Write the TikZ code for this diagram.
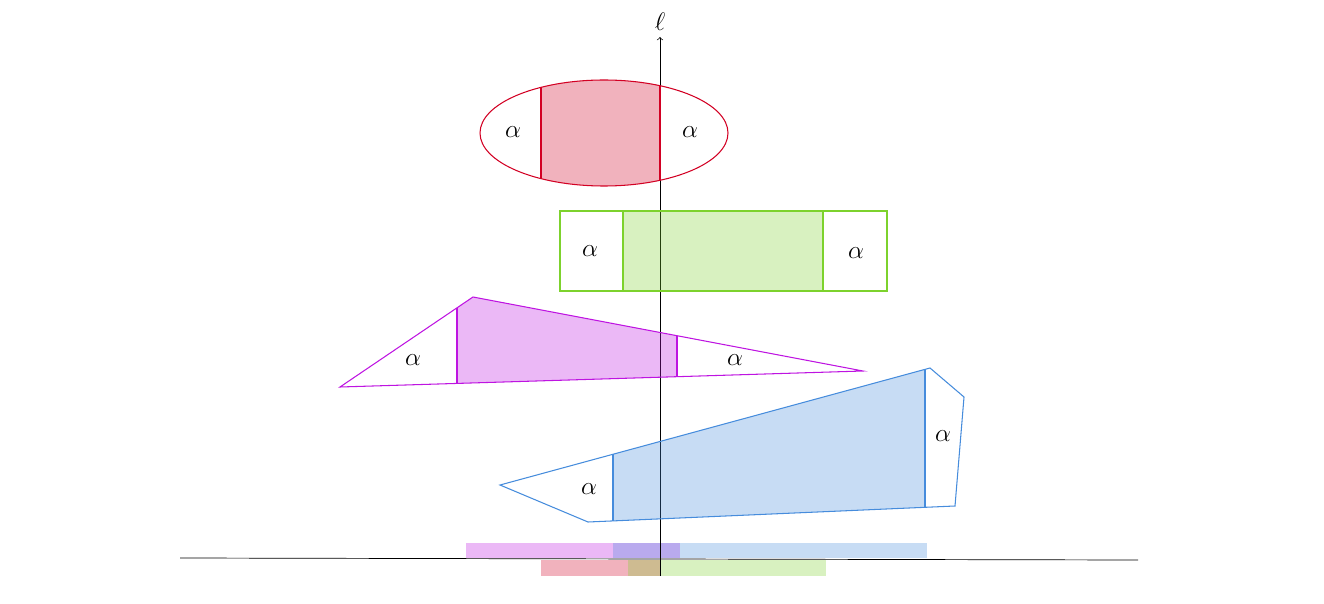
\documentclass[tikz,border=0pt]{standalone}
\usepackage{amsmath}
\definecolor{redc}{RGB}{210,0,35}
\definecolor{greenc}{RGB}{125,210,45}
\definecolor{magc}{RGB}{190,20,225}
\definecolor{bluec}{RGB}{70,140,220}
\tikzset{lbl/.style={font=\Large},
  shadeA/.style={fill opacity=.3}}
\begin{document}
\begin{tikzpicture}[x=0.02cm,y=-0.02cm]
\useasboundingbox (0,0) rectangle (1324,604);
% bars
\fill[magc,opacity=.3] (466,543) rectangle (680,558);
\fill[bluec,opacity=.3] (613,543) rectangle (927,558);
\fill[redc,opacity=.3] (541,560) rectangle (660,576);
\fill[greenc,opacity=.3] (628,560) rectangle (826,576);
% base line and axis
\coordinate (b0) at (180,558);
\coordinate (b1) at (1138,560);
\draw (b0) -- (b1);
\node (ell) at (660,22) {\Large$\ell$};
\coordinate (a0) at (660,576);
\draw[->] (a0) -- (ell.south);
% red ellipse
\begin{scope}
\clip (604,133) ellipse (124 and 53);
\fill[redc,opacity=.3] (541,70) rectangle (660,190);
\draw[redc,semithick] (541,70) -- (541,190) (660,70) -- (660,190);
\end{scope}
\draw[redc,semithick] (604,133) ellipse (124 and 53);
\node[lbl] (r1) at (513,132) {$\alpha$};
\node[lbl] (r2) at (690,132) {$\alpha$};
% green rectangle
\fill[greenc,opacity=.3] (623,211) rectangle (823,291);
\draw[greenc,semithick] (560,211) rectangle (887,291) (623,211) -- (623,291) (823,211) -- (823,291);
\node[lbl] (g1) at (590,251) {$\alpha$};
\node[lbl] (g2) at (856,253) {$\alpha$};
% magenta triangle
\begin{scope}
\clip (340,387) -- (473,297) -- (863,371) -- cycle;
\fill[magc,opacity=.3] (457,290) rectangle (677,395);
\draw[magc,semithick] (457,290) -- (457,395) (677,290) -- (677,395);
\end{scope}
\draw[magc,semithick] (340,387) -- (473,297) -- (863,371) -- cycle;
\node[lbl] (m1) at (413,360) {$\alpha$};
\node[lbl] (m2) at (735,360) {$\alpha$};
% blue polygon
\begin{scope}
\clip (500,485) -- (588,522) -- (955,506) -- (964,397) -- (930,368) -- cycle;
\fill[bluec,opacity=.3] (613,360) rectangle (925,530);
\draw[bluec,semithick] (613,360) -- (613,530) (925,360) -- (925,530);
\end{scope}
\draw[bluec,semithick] (500,485) -- (588,522) -- (955,506) -- (964,397) -- (930,368) -- cycle;
\node[lbl] (u1) at (589,489) {$\alpha$};
\node[lbl] (u2) at (943,436) {$\alpha$};
\end{tikzpicture}
\end{document}
